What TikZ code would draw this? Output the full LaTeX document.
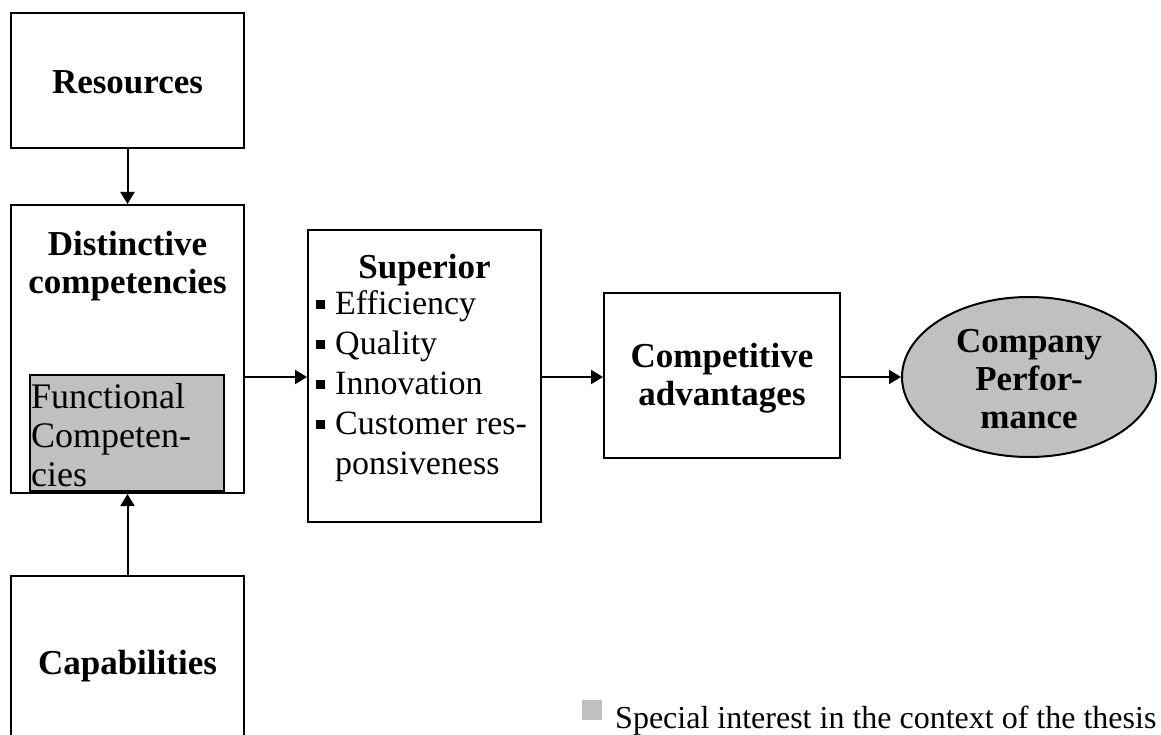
\documentclass[tikz,border=0pt]{standalone}
\usepackage{fontspec}
\setmainfont{Liberation Serif}
\usetikzlibrary{shapes.geometric,arrows.meta}
\definecolor{hl}{RGB}{192,192,192}
\newcommand{\sqbul}{\raisebox{5pt}{\rule{9pt}{9pt}}\hspace{10pt}}
\tikzset{
  box/.style={draw, line width=2pt, inner sep=0pt, fill=white},
  lbl/.style={font=\fontsize{35}{38}\selectfont\bfseries, align=center, inner sep=0pt},
  plain/.style={font=\fontsize{34}{40}\selectfont, align=left, inner sep=0pt},
  conn/.style={line width=2pt, -{Triangle[length=12pt,width=14pt]}},
}
\begin{document}
\begin{tikzpicture}[x=1pt,y=-1pt]
\useasboundingbox (0,0) rectangle (1161,735);
% boxes
\node[box, minimum width=233pt, minimum height=135pt] (res) at (127.5,80.5) {};
\node[lbl, anchor=base] (reslbl) at (127.5,94) {Resources};
\node[box, minimum width=233pt, minimum height=288pt] (dist) at (127.5,349) {};
\node[lbl, anchor=base] (distlbl) at (127.5,293) {Distinctive\\competencies};
\node[box, fill=hl, minimum width=194pt, minimum height=116pt] (func) at (127,433) {};
\node[anchor=base west, inner sep=0pt, font=\fontsize{36}{39}\selectfont, align=left] (funclbl) at (31,486) {Functional\\Competen-\\cies};
\node[box, minimum width=233pt, minimum height=230pt] (cap) at (127.5,691) {};
\node[lbl, anchor=base] (caplbl) at (127.5,674) {Capabilities};
\node[box, minimum width=233pt, minimum height=292pt] (sup) at (424.5,376) {};
\node[lbl, anchor=base] (suplbl) at (424.5,278) {Superior};
\node[plain, anchor=base west] (suplist) at (316,474) {%
\sqbul Efficiency\\
\sqbul Quality\\
\sqbul Innovation\\
\sqbul Customer res-\\
\hspace{19pt}ponsiveness};
\node[box, minimum width=236pt, minimum height=165pt] (comp) at (722,375.5) {};
\node[lbl, anchor=base] (complbl) at (722,405) {Competitive\\advantages};
\node[box, ellipse, fill=hl, minimum width=254pt, minimum height=160pt] (perf) at (1029,377) {};
\node[lbl, anchor=base] (perflbl) at (1029,428) {Company\\Perfor-\\mance};
% connectors
\draw[conn] (res.south) -- (dist.north);
\draw[conn] (cap.north) -- (dist.south);
\draw[conn] (dist.east |- 0,377) -- (sup.west |- 0,377);
\draw[conn] (sup.east |- 0,377) -- (comp.west |- 0,377);
\draw[conn] (comp.east |- 0,377) -- (perf.west);
% legend
\node[fill=hl, minimum width=20pt, minimum height=20pt, inner sep=0pt] (legbox) at (592,710) {};
\node[font=\fontsize{32}{34}\selectfont, inner sep=0pt, anchor=base west] (legtxt) at (615,728) {Special interest in the context of the thesis};
\end{tikzpicture}
\end{document}
